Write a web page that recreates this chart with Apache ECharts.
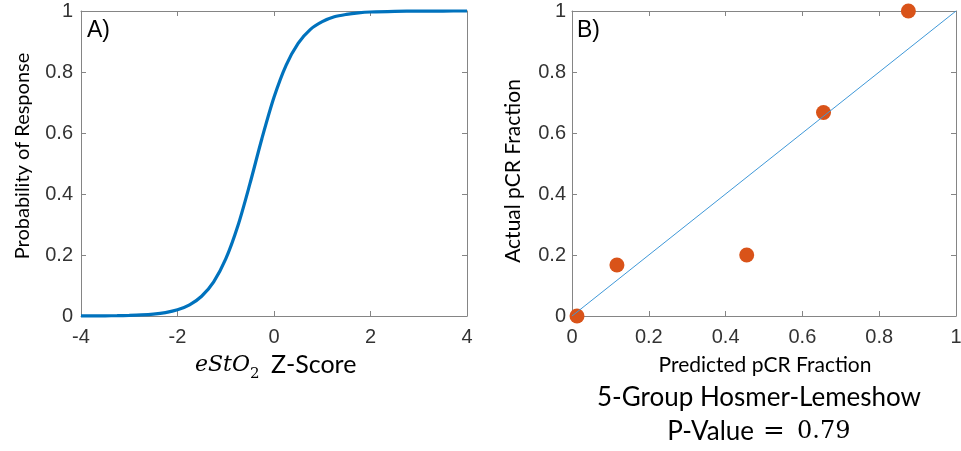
<!DOCTYPE html>
<html>
<head>
<meta charset="utf-8">
<script src="https://cdn.jsdelivr.net/npm/echarts@6/dist/echarts.min.js"></script>
<style>
  html, body { margin: 0; padding: 0; background: #fff; }
  #chart { width: 961px; height: 451px; }
</style>
</head>
<body>
<div id="chart"></div>
<script>
// Panel A: fitted logistic response curve
const zScores = [-4, -3.75, -3.5, -3.25, -3, -2.75, -2.5, -2.25, -2, -1.75, -1.5, -1.25, -1, -0.75, -0.5, -0.25,
                 0, 0.25, 0.5, 0.75, 1, 1.25, 1.5, 1.75, 2, 2.5, 3, 3.5, 4];
const probResponse = [0.0002, 0.0003, 0.0006, 0.001, 0.0019, 0.0034, 0.0062, 0.0113, 0.0204, 0.0366, 0.0648, 0.112,
                      0.187, 0.295, 0.433, 0.582, 0.717, 0.822, 0.894, 0.939, 0.965, 0.981, 0.989, 0.994, 0.9968,
                      0.999, 0.9997, 0.9999, 1.0];

// Panel B: calibration groups
const predictedFraction = [0.013, 0.117, 0.455, 0.655, 0.876];
const actualFraction = [0, 0.167, 0.2, 0.667, 1.0];
const identityLine = [[0, 0], [1, 1]];

const xTicksA = { min: -4, max: 4, interval: 2 };
const unitTicks = { min: 0, max: 1, interval: 0.2 };

const axisGrey = '#858585';
const labelGrey = '#333333';
const sansCal = 'Lato, "Open Sans", sans-serif';
const sansAx = '"Liberation Sans", Arial, sans-serif';
const serifMath = '"DejaVu Serif", serif';

function valueAxis(gridIndex, position, ticks, showLabels, margin) {
  return {
    gridIndex, position, type: 'value',
    min: ticks.min, max: ticks.max, interval: ticks.interval,
    axisLine: { show: true, onZero: false, lineStyle: { color: axisGrey, width: 1 } },
    axisTick: { show: true, inside: true, length: 5, lineStyle: { color: axisGrey } },
    axisLabel: { show: showLabels, fontSize: 20, color: labelGrey, fontFamily: sansAx, margin },
    splitLine: { show: false }
  };
}

const chart = echarts.init(document.getElementById('chart'), null, { renderer: 'canvas' });

const option = {
  animation: false,
  backgroundColor: '#ffffff',
  grid: [
    { left: 81, right: 494, top: 11, bottom: 135, outerBoundsMode: 'none', containLabel: false },
    { left: 572, right: 5, top: 11, bottom: 135, outerBoundsMode: 'none', containLabel: false }
  ],
  xAxis: [
    valueAxis(0, 'bottom', xTicksA, true, 11),
    valueAxis(0, 'top', xTicksA, false, 8),
    valueAxis(1, 'bottom', unitTicks, true, 11),
    valueAxis(1, 'top', unitTicks, false, 8)
  ],
  yAxis: [
    valueAxis(0, 'left', unitTicks, true, 8),
    valueAxis(0, 'right', unitTicks, false, 8),
    valueAxis(1, 'left', unitTicks, true, 6),
    valueAxis(1, 'right', unitTicks, false, 8)
  ],
  series: [
    {
      type: 'line',
      xAxisIndex: 0, yAxisIndex: 0,
      data: zScores.map((z, i) => [z, probResponse[i]]),
      smooth: 0.3,
      showSymbol: false,
      clip: false,
      lineStyle: { color: '#0072BD', width: 3.2 }
    },
    {
      type: 'line',
      xAxisIndex: 2, yAxisIndex: 2,
      data: identityLine,
      showSymbol: false,
      lineStyle: { color: '#3f98d8', width: 1 }
    },
    {
      type: 'scatter',
      xAxisIndex: 2, yAxisIndex: 2,
      data: predictedFraction.map((p, i) => [p, actualFraction[i]]),
      symbolSize: 15,
      clip: false,
      itemStyle: { color: '#D95319', opacity: 1 }
    }
  ],
  graphic: [
    { type: 'text', left: 87, top: 19, style: { text: 'A)', font: '23px ' + sansAx, fill: '#000' } },
    { type: 'text', left: 577, top: 19, style: { text: 'B)', font: '23px ' + sansAx, fill: '#000' } },
    {
      type: 'text', x: 23, y: 156, rotation: Math.PI / 2,
      style: { text: 'Probability of Response', font: '20px ' + sansCal, fill: '#000', align: 'center', verticalAlign: 'middle' }
    },
    {
      type: 'text', x: 513, y: 171, rotation: Math.PI / 2,
      style: { text: 'Actual pCR Fraction', font: '21px ' + sansCal, fill: '#000', align: 'center', verticalAlign: 'middle' }
    },
    { type: 'text', x: 195, y: 365, style: { text: 'eStO', font: 'italic 22px ' + serifMath, fill: '#000', verticalAlign: 'middle' } },
    { type: 'text', x: 250, y: 374, style: { text: '2', font: '15px ' + serifMath, fill: '#000', verticalAlign: 'middle' } },
    { type: 'text', x: 271, y: 365, style: { text: 'Z-Score', font: '25px ' + sansCal, fill: '#000', verticalAlign: 'middle' } },
    { type: 'text', x: 765, y: 365, style: { text: 'Predicted pCR Fraction', font: '21px ' + sansCal, fill: '#000', align: 'center', verticalAlign: 'middle' } },
    { type: 'text', x: 759, y: 398, style: { text: '5-Group Hosmer-Lemeshow', font: '26px ' + sansCal, fill: '#000', align: 'center', verticalAlign: 'middle' } },
    { type: 'text', x: 754, y: 432, style: { text: 'P-Value', font: '26px ' + sansCal, fill: '#000', align: 'right', verticalAlign: 'middle' } },
    { type: 'text', x: 774, y: 432, style: { text: '=', font: '26px ' + serifMath, fill: '#000', align: 'center', verticalAlign: 'middle' } },
    { type: 'text', x: 797, y: 432, style: { text: '0.79', font: '24px ' + serifMath, fill: '#000', align: 'left', verticalAlign: 'middle' } }
  ]
};

chart.setOption(option);
</script>
</body>
</html>
